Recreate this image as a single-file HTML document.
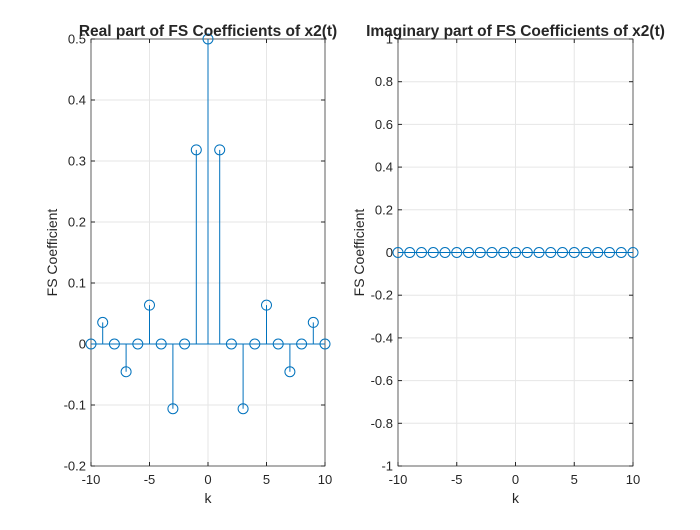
<!DOCTYPE html>
<html><head><meta charset="utf-8"><style>
body{margin:0;background:#fff;}
svg text{font-family:"Liberation Sans",Arial,sans-serif;fill:#262626;}
</style></head><body>
<svg id="fig" width="700" height="525" xmlns="http://www.w3.org/2000/svg">
<rect width="700" height="525" fill="#fff"/>
</svg>
<script>
const kValues=[-10,-9,-8,-7,-6,-5,-4,-3,-2,-1,0,1,2,3,4,5,6,7,8,9,10];
const realValues=[0,0.0354,0,-0.0455,0,0.0637,0,-0.1061,0,0.3183,0.5,0.3183,0,-0.1061,0,0.0637,0,-0.0455,0,0.0354,0];
const imagValues=[0,0,0,0,0,0,0,0,0,0,0,0,0,0,0,0,0,0,0,0,0];
const xTicks=[-10,-5,0,5,10];
const realYTicks=[-0.2,-0.1,0,0.1,0.2,0.3,0.4,0.5];
const imagYTicks=[-1,-0.8,-0.6,-0.4,-0.2,0,0.2,0.4,0.6,0.8,1];
const svg=document.getElementById('fig');
const NS='http://www.w3.org/2000/svg';
function mk(tag,attrs,parent){const e=document.createElementNS(NS,tag);for(const k in attrs)e.setAttribute(k,attrs[k]);(parent||svg).appendChild(e);return e;}
function panel(name,x0,x1,yTop,yBot,ymin,ymax,yticks,vals,title){
  const g=mk('g',{});
  
  
  const sx=v=>x0+(v+10)/20*(x1-x0);
  const sy=v=>yBot-(v-ymin)/(ymax-ymin)*(yBot-yTop);
  for(const t of xTicks){const l=mk('line',{x1:sx(t),x2:sx(t),y1:yTop,y2:yBot,stroke:'#e6e6e6'},g);}
  for(const t of yticks){const l=mk('line',{x1:x0,x2:x1,y1:sy(t),y2:sy(t),stroke:'#e6e6e6'},g);}
  const box=mk('rect',{x:x0,y:yTop,width:x1-x0,height:yBot-yTop,fill:'none',stroke:'#262626','stroke-width':0.7},g);
  
  for(const t of xTicks){
    mk('line',{x1:sx(t),x2:sx(t),y1:yBot,y2:yBot-4,stroke:'#262626'},g);mk('line',{x1:sx(t),x2:sx(t),y1:yTop,y2:yTop+4,stroke:'#262626'},g);
    const tx=mk('text',{x:sx(t),y:yBot+18,'text-anchor':'middle','font-size':13},g);tx.textContent=t;
    
  }
  for(const t of yticks){
    mk('line',{x1:x0,x2:x0+4,y1:sy(t),y2:sy(t),stroke:'#262626'},g);mk('line',{x1:x1,x2:x1-4,y1:sy(t),y2:sy(t),stroke:'#262626'},g);
    const tx=mk('text',{x:x0-5,y:sy(t)+4.5,'text-anchor':'end','font-size':13},g);tx.textContent=String(Math.round(t*10)/10);
    
  }
  kValues.forEach((k,i)=>{
    const v=vals[i];
    const s=mk('line',{x1:sx(k),x2:sx(k),y1:sy(0),y2:sy(v),stroke:'#0072BD','stroke-width':1},g);
    
    const c=mk('circle',{cx:sx(k),cy:sy(v),r:5,fill:'none',stroke:'#0072BD','stroke-width':1},g);
    
  });
  const bl=mk('line',{x1:x0,x2:x1,y1:sy(0),y2:sy(0),stroke:'#0072BD'},g);
  
  const tt=mk('text',{x:(x0+x1)/2,y:yTop-3,'text-anchor':'middle','font-size':15.5,'font-weight':'bold','fill':'#000'},g);tt.textContent=title;
  
  const xl=mk('text',{x:(x0+x1)/2,y:yBot+37,'text-anchor':'middle','font-size':14},g);xl.textContent='k';
  
  const yc=(yTop+yBot)/2;
  const yl=mk('text',{x:x0-34,y:yc,'text-anchor':'middle','font-size':14,transform:`rotate(-90 ${x0-34} ${yc})`},g);yl.textContent='FS Coefficient';
  
}
panel('real-part-plot',91,325,39,466,-0.2,0.5,realYTicks,realValues,'Real part of FS Coefficients of x2(t)');
panel('imaginary-part-plot',398,633,39,466,-1,1,imagYTicks,imagValues,'Imaginary part of FS Coefficients of x2(t)');
</script>
</body></html>
